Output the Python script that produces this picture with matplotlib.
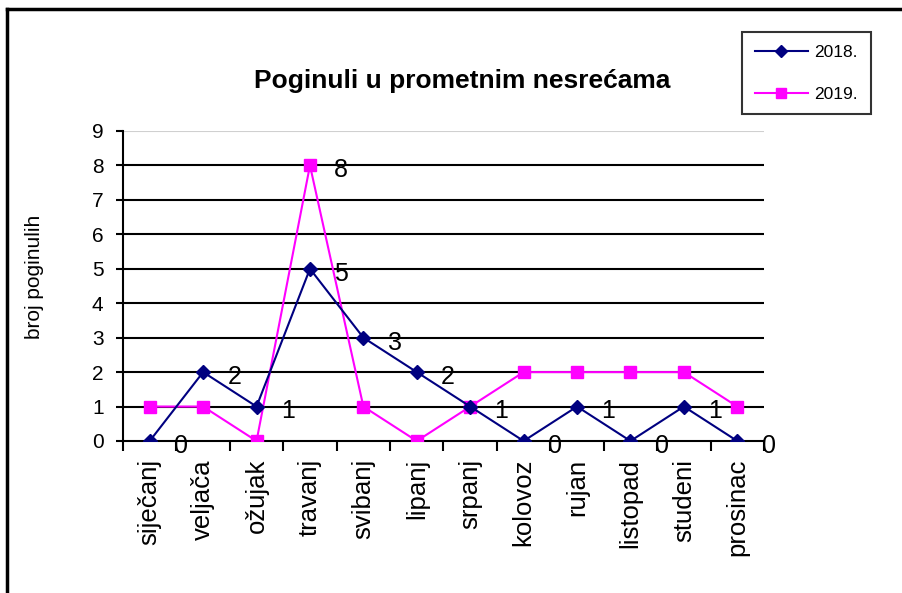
import matplotlib
matplotlib.use("Agg")
import matplotlib.pyplot as plt
from matplotlib.lines import Line2D

plt.rcParams["font.family"] = ["Liberation Sans", "DejaVu Sans"]

months = ["siječanj", "veljača", "ožujak", "travanj", "svibanj", "lipanj",
          "srpanj", "kolovoz", "rujan", "listopad", "studeni", "prosinac"]
deaths_2018 = [0, 2, 1, 5, 3, 2, 1, 0, 1, 0, 1, 0]
deaths_2019 = [1, 1, 0, 8, 1, 0, 1, 2, 2, 2, 2, 1]
labelled_2019 = {3}  # only the April value carries a label in 2019
y_ticks = list(range(0, 10))

navy = "#000080"
pink = "#FF00FF"

fig = plt.figure(figsize=(9.02, 5.93), dpi=100)
ax = fig.add_axes([123 / 902, 1 - 441 / 593, 641 / 902, 310 / 593])

x = list(range(len(months)))
ax.plot(x, deaths_2018, color=navy, marker="D", markersize=7, linewidth=1.5,
        label="2018.", zorder=4)
ax.plot(x, deaths_2019, color=pink, marker="s", markersize=9, linewidth=1.5,
        label="2019.", zorder=3)

for i, v in enumerate(deaths_2018):
    ax.annotate(str(v), (i, v), xytext=(22.5, -3.5), textcoords="offset points",
                ha="center", va="center", fontsize=18, color="black", zorder=5)
for i in labelled_2019:
    ax.annotate(str(deaths_2019[i]), (i, deaths_2019[i]), xytext=(22.5, -3.5),
                textcoords="offset points", ha="center", va="center",
                fontsize=18, color="black", zorder=5)

ax.set_xlim(-0.5, len(months) - 0.5)
ax.set_ylim(0, 9)
ax.set_yticks(y_ticks)
ax.set_xticks(x)
ax.set_xticklabels(months, rotation=90, fontsize=18.5)
ax.set_xticks([i - 0.5 for i in range(len(months) + 1)], minor=True)
ax.tick_params(axis="x", which="major", length=0, pad=13)
ax.tick_params(axis="x", which="minor", length=7, width=1.5, direction="out")
ax.tick_params(axis="y", labelsize=15, length=5, width=1.5, direction="out",
               pad=9)

for v in y_ticks[1:]:
    ax.axhline(v, color="black" if v < 9 else "#d0d0d0", linewidth=1.5,
               zorder=1)

for s in ["top", "right"]:
    ax.spines[s].set_visible(False)
ax.spines["left"].set_linewidth(1.5)
ax.spines["bottom"].set_linewidth(1.5)

fig.text(35 / 902, 1 - 277 / 593, "broj poginulih", rotation=90,
         ha="center", va="center", fontsize=15)
fig.text(462 / 902, 1 - 81 / 593, "Poginuli u prometnim nesrećama",
         ha="center", va="center", fontsize=19, fontweight="bold")

handles = [Line2D([], [], color=navy, marker="D", markersize=6, linewidth=1.5),
           Line2D([], [], color=pink, marker="s", markersize=7, linewidth=1.5)]
leg = fig.legend(handles, ["2018.", "2019."], loc="upper left",
                 bbox_to_anchor=(742 / 902, 1 - 32 / 593), borderaxespad=0,
                 fontsize=12.5, frameon=True, fancybox=False,
                 edgecolor="black", borderpad=0.72, labelspacing=1.55,
                 handlelength=3.1, handletextpad=0.35)
leg.get_frame().set_linewidth(1.5)

# chart area border (only top and left visible in the frame)
fig.add_artist(Line2D([7 / 902, 7 / 902], [0, 1 - 9 / 593], color="black",
                      linewidth=2.5, transform=fig.transFigure))
fig.add_artist(Line2D([7 / 902, 1], [1 - 9 / 593, 1 - 9 / 593], color="black",
                      linewidth=2.5, transform=fig.transFigure))

fig.savefig("out.png", dpi=100)
